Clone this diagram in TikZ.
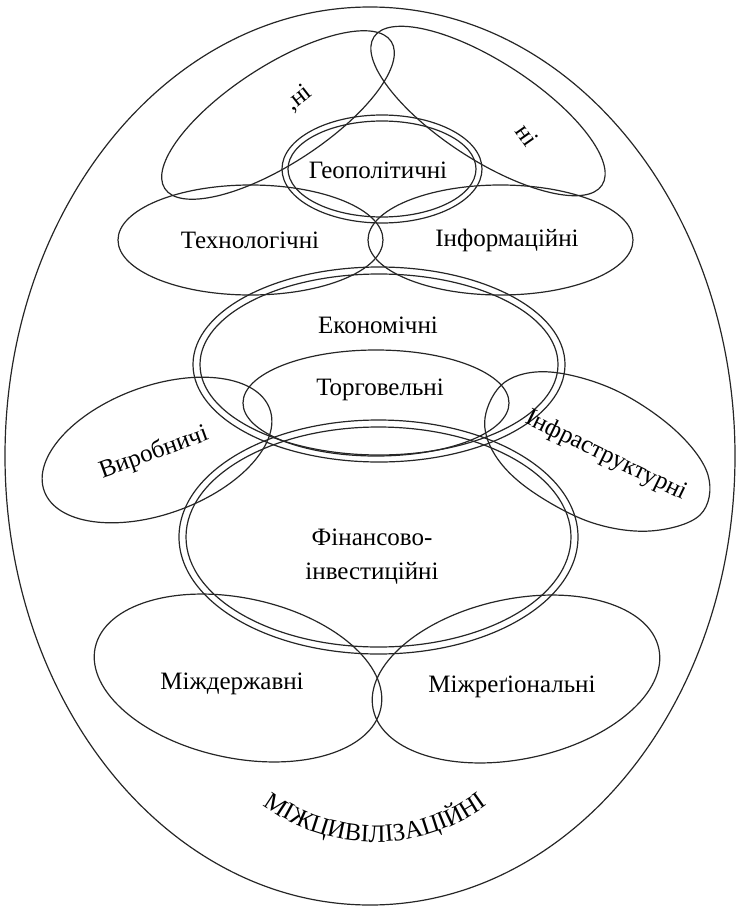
\documentclass[tikz,border=0pt]{standalone}
\usepackage{fontspec}
\setmainfont{Liberation Serif}
\usetikzlibrary{decorations.text}
\begin{document}
\begin{tikzpicture}[x=1pt,y=1pt,
  ln/.style={line width=1.2pt, draw=black!85},
  lbl/.style={font=\fontsize{25}{34}\selectfont, text=black, inner sep=0pt, align=center}]
\useasboundingbox (0,0) rectangle (738,-907);
% outer
\draw[ln] (370,-456) ellipse [x radius=365, y radius=449];
% top tilted
\draw[ln, rotate around={33:(278,-115)}] (278,-115) ellipse [x radius=135, y radius=49];
\draw[ln, rotate around={-33:(488,-111)}] (488,-111) ellipse [x radius=136, y radius=49];
% geopolitical double
\draw[ln] (382,-169) ellipse [x radius=100, y radius=54];
\draw[ln] (382,-169) ellipse [x radius=94, y radius=48];
% tech / info
\draw[ln] (250.5,-240) ellipse [x radius=132.5, y radius=55];
\draw[ln] (500.5,-240) ellipse [x radius=132.5, y radius=55];
% economic double
\draw[ln] (379,-364.5) ellipse [x radius=186, y radius=97.5];
\draw[ln] (379,-364.5) ellipse [x radius=179, y radius=90.5];
% trade
\draw[ln] (376,-403) ellipse [x radius=133, y radius=53];
% financial double
\draw[ln] (378.5,-537) ellipse [x radius=199.5, y radius=117];
\draw[ln] (378.5,-537) ellipse [x radius=192.5, y radius=110];
% production
\draw[ln, rotate around={20:(157,-450)}] (157,-450) ellipse [x radius=120, y radius=64];
% infrastructure (egg shape)
\draw[ln] plot[smooth cycle, tension=0.6] coordinates {
  (485,-418) (505,-382) (550,-372) (615,-390) (675,-430) (708,-475)
  (700,-515) (650,-531) (590,-522) (530,-490) (495,-455)};
% interstate / interregional
\draw[ln, rotate around={-12:(238,-678)}] (238,-678) ellipse [x radius=146, y radius=80];
\draw[ln, rotate around={12:(516,-679)}] (516,-679) ellipse [x radius=146, y radius=80];
% labels
\node[lbl] (g) at (378,-170) {Геополітичні};
\node[lbl] (t) at (250,-240) {Технологічні};
\node[lbl] (inf) at (507,-240) {Інформаційні};
\node[lbl] (ec) at (378,-325) {Економічні};
\node[lbl] (tr) at (380,-390) {Торговельні};
\node[lbl, rotate=20] (vy) at (154,-453) {Виробничі};
\node[lbl, rotate=-26] (ifr) at (606,-456) {Інфраструктурні};
\node[lbl] (fin) at (372,-557) {Фінансово-\\інвестиційні};
\node[lbl] (md) at (232,-684) {Міждержавні};
\node[lbl] (mr) at (512,-687) {Міжреґіональні};
\node[lbl, rotate=38] (s1) at (299,-98) {,ні};
\node[lbl, rotate=-55] (s2) at (527,-135) {ні};
% arc text
\path[decorate, decoration={text along path, text align=center,
  text format delimiters={|}{|},
  text={|\fontsize{25}{30}\selectfont\color{black}|МІЖЦИВІЛІЗАЦІЙНІ}}]
  (262.9,-804.9) arc [start angle=233.4, end angle=306.6, radius=188];
\end{tikzpicture}
\end{document}
